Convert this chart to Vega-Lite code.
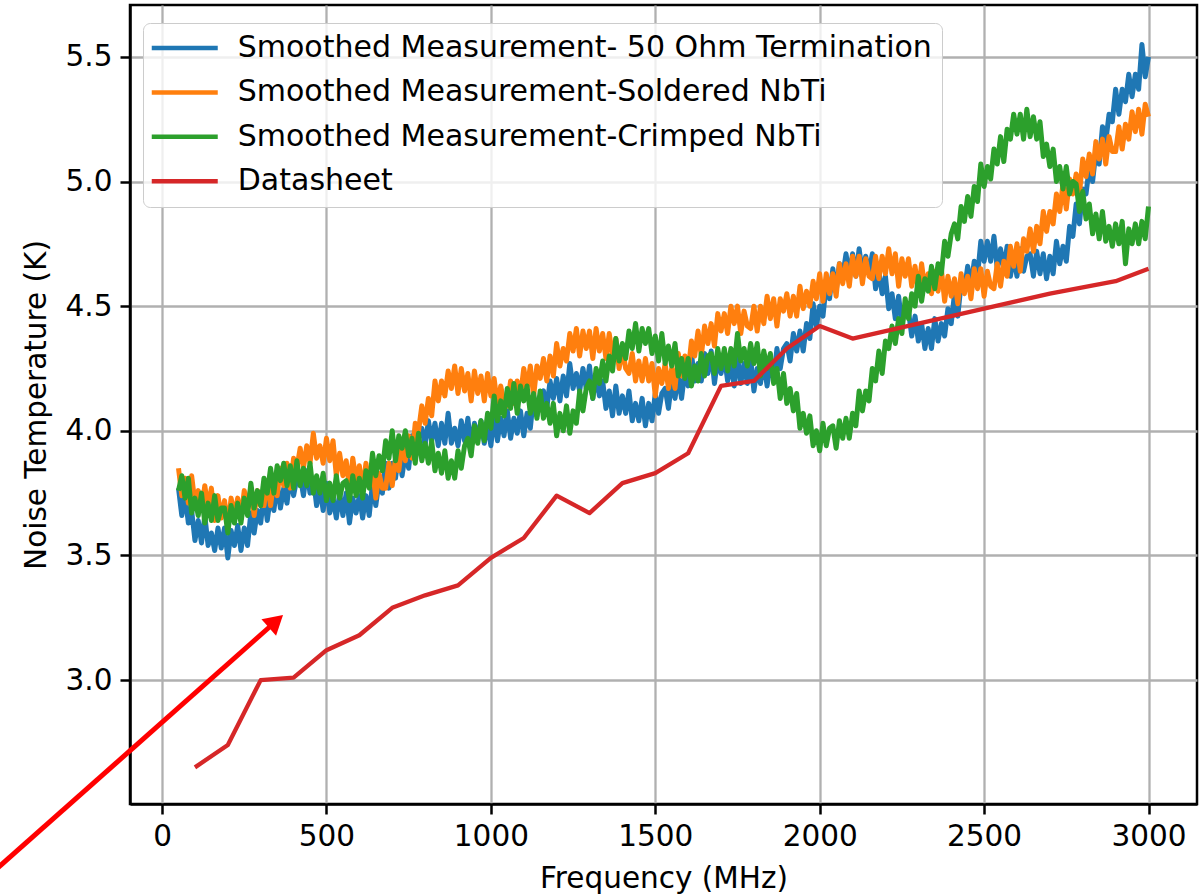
{
"$schema": "https://vega.github.io/schema/vega-lite/v6.json",
"width": 1067, "height": 799,
"autosize": {"type": "none"},
"padding": {"left": 130, "top": 5, "right": 4, "bottom": 92},
"background": "white",
"config": {
  "font": "DejaVu Sans",
  "view": {"stroke": "black", "strokeWidth": 2.5},
  "axis": {"labelFont": "DejaVu Sans", "titleFont": "DejaVu Sans", "labelFontSize": 29.5, "titleFontSize": 29.5, "titleFontWeight": "normal", "labelColor": "black", "titleColor": "black", "tickColor": "black", "tickWidth": 2.5, "tickSize": 10, "domainColor": "black", "domainWidth": 2.5, "gridColor": "#b0b0b0", "gridWidth": 2.3, "gridOpacity": 1, "labelPadding": 8, "labelFlush": false}
},
"datasets": {
"meas": [
{"f":50,"b":3.77,"o":3.85,"g":3.76},{"f":60,"b":3.66,"o":3.74,"g":3.82},{"f":70,"b":3.74,"o":3.81,"g":3.73},{"f":80,"b":3.63,"o":3.71,"g":3.81},{"f":90,"b":3.68,"o":3.82,"g":3.67},
{"f":100,"b":3.56,"o":3.71,"g":3.73},{"f":110,"b":3.64,"o":3.76,"g":3.66},{"f":120,"b":3.55,"o":3.68,"g":3.75},{"f":130,"b":3.66,"o":3.78,"g":3.63},{"f":140,"b":3.54,"o":3.69,"g":3.71},
{"f":150,"b":3.59,"o":3.77,"g":3.64},{"f":160,"b":3.52,"o":3.64,"g":3.74},{"f":170,"b":3.61,"o":3.74,"g":3.64},{"f":180,"b":3.53,"o":3.65,"g":3.69},{"f":190,"b":3.61,"o":3.72,"g":3.69},
{"f":200,"b":3.49,"o":3.61,"g":3.59},{"f":210,"b":3.60,"o":3.73,"g":3.70},{"f":220,"b":3.54,"o":3.66,"g":3.63},{"f":230,"b":3.62,"o":3.73,"g":3.71},{"f":240,"b":3.52,"o":3.65,"g":3.63},
{"f":250,"b":3.61,"o":3.76,"g":3.73},{"f":260,"b":3.54,"o":3.69,"g":3.66},{"f":270,"b":3.67,"o":3.77,"g":3.79},{"f":280,"b":3.59,"o":3.66,"g":3.69},{"f":290,"b":3.68,"o":3.76,"g":3.76},
{"f":300,"b":3.63,"o":3.70,"g":3.70},{"f":310,"b":3.75,"o":3.70,"g":3.81},{"f":320,"b":3.64,"o":3.80,"g":3.75},{"f":330,"b":3.74,"o":3.70,"g":3.85},{"f":340,"b":3.68,"o":3.80,"g":3.75},
{"f":350,"b":3.79,"o":3.74,"g":3.86},{"f":360,"b":3.69,"o":3.85,"g":3.80},{"f":370,"b":3.77,"o":3.78,"g":3.87},{"f":380,"b":3.71,"o":3.87,"g":3.78},{"f":390,"b":3.82,"o":3.77,"g":3.86},
{"f":400,"b":3.74,"o":3.89,"g":3.77},{"f":410,"b":3.81,"o":3.85,"g":3.88},{"f":420,"b":3.82,"o":3.93,"g":3.78},{"f":430,"b":3.74,"o":3.85,"g":3.85},{"f":440,"b":3.84,"o":3.94,"g":3.78},
{"f":450,"b":3.75,"o":3.87,"g":3.87},{"f":460,"b":3.81,"o":3.99,"g":3.75},{"f":470,"b":3.70,"o":3.89,"g":3.82},{"f":480,"b":3.77,"o":3.94,"g":3.75},{"f":490,"b":3.68,"o":3.87,"g":3.83},
{"f":500,"b":3.79,"o":3.97,"g":3.72},{"f":510,"b":3.67,"o":3.88,"g":3.79},{"f":520,"b":3.73,"o":3.96,"g":3.72},{"f":530,"b":3.65,"o":3.82,"g":3.82},{"f":540,"b":3.75,"o":3.91,"g":3.73},
{"f":550,"b":3.66,"o":3.82,"g":3.79},{"f":560,"b":3.75,"o":3.88,"g":3.80},{"f":570,"b":3.63,"o":3.77,"g":3.72},{"f":580,"b":3.73,"o":3.89,"g":3.82},{"f":590,"b":3.67,"o":3.80,"g":3.74},
{"f":600,"b":3.74,"o":3.86,"g":3.81},{"f":610,"b":3.65,"o":3.76,"g":3.73},{"f":620,"b":3.74,"o":3.87,"g":3.84},{"f":630,"b":3.66,"o":3.78,"g":3.77},{"f":640,"b":3.79,"o":3.85,"g":3.91},
{"f":650,"b":3.70,"o":3.73,"g":3.82},{"f":660,"b":3.80,"o":3.83,"g":3.90},{"f":670,"b":3.75,"o":3.77,"g":3.84},{"f":680,"b":3.87,"o":3.77,"g":3.96},{"f":690,"b":3.77,"o":3.87,"g":3.89},
{"f":700,"b":3.87,"o":3.78,"g":4.00},{"f":710,"b":3.81,"o":3.89,"g":3.88},{"f":720,"b":3.91,"o":3.84,"g":3.98},{"f":730,"b":3.82,"o":3.95,"g":3.93},{"f":740,"b":3.91,"o":3.88,"g":4.00},
{"f":750,"b":3.85,"o":3.98,"g":3.90},{"f":760,"b":3.98,"o":3.89,"g":3.97},{"f":770,"b":3.90,"o":4.03,"g":3.87},{"f":780,"b":3.99,"o":4.00,"g":3.99},{"f":790,"b":4.01,"o":4.10,"g":3.88},
{"f":800,"b":3.94,"o":4.03,"g":3.95},{"f":810,"b":4.04,"o":4.13,"g":3.87},{"f":820,"b":3.96,"o":4.06,"g":3.96},{"f":830,"b":4.03,"o":4.20,"g":3.84},{"f":840,"b":3.94,"o":4.12,"g":3.91},
{"f":850,"b":4.03,"o":4.20,"g":3.83},{"f":860,"b":3.95,"o":4.14,"g":3.92},{"f":870,"b":4.07,"o":4.24,"g":3.81},{"f":880,"b":3.95,"o":4.17,"g":3.88},{"f":890,"b":4.01,"o":4.26,"g":3.81},
{"f":900,"b":3.94,"o":4.15,"g":3.92},{"f":910,"b":4.04,"o":4.25,"g":3.85},{"f":920,"b":3.96,"o":4.16,"g":3.94},{"f":930,"b":4.05,"o":4.23,"g":3.97},{"f":940,"b":3.93,"o":4.12,"g":3.90},
{"f":950,"b":4.03,"o":4.24,"g":4.02},{"f":960,"b":3.97,"o":4.15,"g":3.95},{"f":970,"b":4.04,"o":4.22,"g":4.04},{"f":980,"b":3.95,"o":4.12,"g":3.96},{"f":990,"b":4.03,"o":4.23,"g":4.07},
{"f":1000,"b":3.94,"o":4.14,"g":4.01},{"f":1010,"b":4.06,"o":4.21,"g":4.14},{"f":1020,"b":3.96,"o":4.10,"g":4.04},{"f":1030,"b":4.05,"o":4.18,"g":4.12},{"f":1040,"b":3.98,"o":4.11,"g":4.06},
{"f":1050,"b":4.08,"o":4.10,"g":4.17},{"f":1060,"b":3.97,"o":4.20,"g":4.09},{"f":1070,"b":4.05,"o":4.11,"g":4.19},{"f":1080,"b":3.99,"o":4.20,"g":4.07},{"f":1090,"b":4.08,"o":4.14,"g":4.18},
{"f":1100,"b":3.98,"o":4.25,"g":4.12},{"f":1110,"b":4.07,"o":4.17,"g":4.18},{"f":1120,"b":4.01,"o":4.26,"g":4.07},{"f":1130,"b":4.14,"o":4.14,"g":4.15},{"f":1140,"b":4.06,"o":4.26,"g":4.05},
{"f":1150,"b":4.14,"o":4.21,"g":4.16},{"f":1160,"b":4.16,"o":4.29,"g":4.05},{"f":1170,"b":4.09,"o":4.20,"g":4.11},{"f":1180,"b":4.20,"o":4.30,"g":4.03},{"f":1190,"b":4.13,"o":4.22,"g":4.11},
{"f":1200,"b":4.21,"o":4.35,"g":3.98},{"f":1210,"b":4.12,"o":4.26,"g":4.07},{"f":1220,"b":4.22,"o":4.33,"g":4.00},{"f":1230,"b":4.14,"o":4.28,"g":4.10},{"f":1240,"b":4.27,"o":4.39,"g":3.99},
{"f":1250,"b":4.17,"o":4.32,"g":4.08},{"f":1260,"b":4.23,"o":4.41,"g":4.03},{"f":1270,"b":4.16,"o":4.30,"g":4.16},{"f":1280,"b":4.25,"o":4.40,"g":4.08},{"f":1290,"b":4.17,"o":4.33,"g":4.17},
{"f":1300,"b":4.26,"o":4.40,"g":4.20},{"f":1310,"b":4.13,"o":4.29,"g":4.13},{"f":1320,"b":4.22,"o":4.41,"g":4.25},{"f":1330,"b":4.14,"o":4.32,"g":4.19},{"f":1340,"b":4.20,"o":4.39,"g":4.28},
{"f":1350,"b":4.09,"o":4.29,"g":4.20},{"f":1360,"b":4.16,"o":4.39,"g":4.30},{"f":1370,"b":4.06,"o":4.30,"g":4.24},{"f":1380,"b":4.18,"o":4.37,"g":4.37},{"f":1390,"b":4.07,"o":4.25,"g":4.28},
{"f":1400,"b":4.14,"o":4.33,"g":4.35},{"f":1410,"b":4.07,"o":4.25,"g":4.29},{"f":1420,"b":4.16,"o":4.23,"g":4.40},{"f":1430,"b":4.04,"o":4.31,"g":4.33},{"f":1440,"b":4.11,"o":4.20,"g":4.43},
{"f":1450,"b":4.04,"o":4.28,"g":4.32},{"f":1460,"b":4.13,"o":4.20,"g":4.41},{"f":1470,"b":4.02,"o":4.29,"g":4.35},{"f":1480,"b":4.11,"o":4.20,"g":4.41},{"f":1490,"b":4.04,"o":4.27,"g":4.31},
{"f":1500,"b":4.15,"o":4.14,"g":4.38},{"f":1510,"b":4.07,"o":4.25,"g":4.28},{"f":1520,"b":4.15,"o":4.19,"g":4.39},{"f":1530,"b":4.17,"o":4.27,"g":4.27},{"f":1540,"b":4.09,"o":4.17,"g":4.34},
{"f":1550,"b":4.20,"o":4.25,"g":4.26},{"f":1560,"b":4.13,"o":4.17,"g":4.35},{"f":1570,"b":4.22,"o":4.31,"g":4.22},{"f":1580,"b":4.13,"o":4.22,"g":4.29},{"f":1590,"b":4.24,"o":4.30,"g":4.21},
{"f":1600,"b":4.18,"o":4.24,"g":4.29},{"f":1610,"b":4.31,"o":4.36,"g":4.18},{"f":1620,"b":4.20,"o":4.30,"g":4.26},{"f":1630,"b":4.27,"o":4.40,"g":4.20},{"f":1640,"b":4.20,"o":4.30,"g":4.31},
{"f":1650,"b":4.31,"o":4.42,"g":4.22},{"f":1660,"b":4.23,"o":4.35,"g":4.30},{"f":1670,"b":4.32,"o":4.43,"g":4.31},{"f":1680,"b":4.19,"o":4.34,"g":4.23},{"f":1690,"b":4.29,"o":4.47,"g":4.33},
{"f":1700,"b":4.23,"o":4.40,"g":4.25},{"f":1710,"b":4.30,"o":4.47,"g":4.33},{"f":1720,"b":4.20,"o":4.39,"g":4.24},{"f":1730,"b":4.27,"o":4.50,"g":4.33},{"f":1740,"b":4.18,"o":4.43,"g":4.26},
{"f":1750,"b":4.30,"o":4.50,"g":4.39},{"f":1760,"b":4.19,"o":4.39,"g":4.28},{"f":1770,"b":4.27,"o":4.48,"g":4.33},{"f":1780,"b":4.19,"o":4.42,"g":4.26},{"f":1790,"b":4.29,"o":4.41,"g":4.35},
{"f":1800,"b":4.16,"o":4.50,"g":4.27},{"f":1810,"b":4.25,"o":4.40,"g":4.35},{"f":1820,"b":4.19,"o":4.50,"g":4.22},{"f":1830,"b":4.28,"o":4.43,"g":4.32},{"f":1840,"b":4.18,"o":4.54,"g":4.25},
{"f":1850,"b":4.27,"o":4.45,"g":4.31},{"f":1860,"b":4.21,"o":4.53,"g":4.19},{"f":1870,"b":4.33,"o":4.42,"g":4.25},{"f":1880,"b":4.25,"o":4.53,"g":4.13},{"f":1890,"b":4.33,"o":4.48,"g":4.23},
{"f":1900,"b":4.35,"o":4.55,"g":4.11},{"f":1910,"b":4.28,"o":4.46,"g":4.17},{"f":1920,"b":4.39,"o":4.54,"g":4.08},{"f":1930,"b":4.32,"o":4.46,"g":4.15},{"f":1940,"b":4.40,"o":4.58,"g":4.01},
{"f":1950,"b":4.32,"o":4.49,"g":4.07},{"f":1960,"b":4.43,"o":4.56,"g":3.99},{"f":1970,"b":4.37,"o":4.50,"g":4.06},{"f":1980,"b":4.51,"o":4.60,"g":3.94},{"f":1990,"b":4.42,"o":4.53,"g":4.00},
{"f":2000,"b":4.50,"o":4.63,"g":3.92},{"f":2010,"b":4.46,"o":4.52,"g":4.03},{"f":2020,"b":4.59,"o":4.63,"g":3.94},{"f":2030,"b":4.53,"o":4.55,"g":4.01},{"f":2040,"b":4.65,"o":4.63,"g":4.02},
{"f":2050,"b":4.56,"o":4.54,"g":3.93},{"f":2060,"b":4.67,"o":4.67,"g":4.04},{"f":2070,"b":4.62,"o":4.59,"g":3.97},{"f":2080,"b":4.71,"o":4.67,"g":4.05},{"f":2090,"b":4.62,"o":4.58,"g":3.97},
{"f":2100,"b":4.71,"o":4.70,"g":4.07},{"f":2110,"b":4.62,"o":4.62,"g":4.02},{"f":2120,"b":4.73,"o":4.70,"g":4.16},{"f":2130,"b":4.63,"o":4.59,"g":4.08},{"f":2140,"b":4.70,"o":4.69,"g":4.16},
{"f":2150,"b":4.63,"o":4.62,"g":4.12},{"f":2160,"b":4.71,"o":4.61,"g":4.25},{"f":2170,"b":4.57,"o":4.70,"g":4.20},{"f":2180,"b":4.64,"o":4.61,"g":4.32},{"f":2190,"b":4.55,"o":4.70,"g":4.23},
{"f":2200,"b":4.62,"o":4.63,"g":4.36},{"f":2210,"b":4.49,"o":4.73,"g":4.33},{"f":2220,"b":4.55,"o":4.63,"g":4.42},{"f":2230,"b":4.45,"o":4.71,"g":4.35},{"f":2240,"b":4.54,"o":4.58,"g":4.45},
{"f":2250,"b":4.43,"o":4.69,"g":4.39},{"f":2260,"b":4.49,"o":4.62,"g":4.53},{"f":2270,"b":4.48,"o":4.69,"g":4.45},{"f":2280,"b":4.38,"o":4.58,"g":4.55},{"f":2290,"b":4.46,"o":4.66,"g":4.50},
{"f":2300,"b":4.36,"o":4.56,"g":4.62},{"f":2310,"b":4.43,"o":4.67,"g":4.52},{"f":2320,"b":4.33,"o":4.57,"g":4.61},{"f":2330,"b":4.41,"o":4.63,"g":4.56},{"f":2340,"b":4.33,"o":4.55,"g":4.66},
{"f":2350,"b":4.45,"o":4.64,"g":4.57},{"f":2360,"b":4.36,"o":4.56,"g":4.67},{"f":2370,"b":4.43,"o":4.65,"g":4.63},{"f":2380,"b":4.38,"o":4.52,"g":4.76},{"f":2390,"b":4.49,"o":4.62,"g":4.70},
{"f":2400,"b":4.43,"o":4.54,"g":4.79},{"f":2410,"b":4.55,"o":4.61,"g":4.83},{"f":2420,"b":4.46,"o":4.51,"g":4.77},{"f":2430,"b":4.59,"o":4.63,"g":4.90},{"f":2440,"b":4.56,"o":4.55,"g":4.84},
{"f":2450,"b":4.66,"o":4.62,"g":4.94},{"f":2460,"b":4.58,"o":4.53,"g":4.86},{"f":2470,"b":4.68,"o":4.65,"g":4.98},{"f":2480,"b":4.62,"o":4.57,"g":4.92},{"f":2490,"b":4.76,"o":4.65,"g":5.07},
{"f":2500,"b":4.68,"o":4.54,"g":4.98},{"f":2510,"b":4.76,"o":4.64,"g":5.06},{"f":2520,"b":4.68,"o":4.58,"g":5.01},{"f":2530,"b":4.78,"o":4.57,"g":5.13},{"f":2540,"b":4.65,"o":4.67,"g":5.07},
{"f":2550,"b":4.73,"o":4.58,"g":5.18},{"f":2560,"b":4.65,"o":4.68,"g":5.08},{"f":2570,"b":4.74,"o":4.62,"g":5.21},{"f":2580,"b":4.62,"o":4.74,"g":5.17},{"f":2590,"b":4.70,"o":4.66,"g":5.27},
{"f":2600,"b":4.62,"o":4.75,"g":5.19},{"f":2610,"b":4.73,"o":4.64,"g":5.27},{"f":2620,"b":4.64,"o":4.77,"g":5.17},{"f":2630,"b":4.70,"o":4.72,"g":5.29},{"f":2640,"b":4.71,"o":4.81,"g":5.18},
{"f":2650,"b":4.62,"o":4.72,"g":5.26},{"f":2660,"b":4.72,"o":4.82,"g":5.17},{"f":2670,"b":4.63,"o":4.75,"g":5.24},{"f":2680,"b":4.71,"o":4.88,"g":5.10},{"f":2690,"b":4.61,"o":4.80,"g":5.15},
{"f":2700,"b":4.70,"o":4.88,"g":5.06},{"f":2710,"b":4.63,"o":4.83,"g":5.13},{"f":2720,"b":4.76,"o":4.95,"g":5.00},{"f":2730,"b":4.67,"o":4.88,"g":5.06},{"f":2740,"b":4.74,"o":4.99,"g":4.97},
{"f":2750,"b":4.68,"o":4.89,"g":5.06},{"f":2760,"b":4.82,"o":5.01,"g":4.95},{"f":2770,"b":4.78,"o":4.95,"g":5.00},{"f":2780,"b":4.91,"o":5.03,"g":4.99},{"f":2790,"b":4.83,"o":4.95,"g":4.88},
{"f":2800,"b":4.97,"o":5.09,"g":4.96},{"f":2810,"b":4.95,"o":5.02,"g":4.85},{"f":2820,"b":5.06,"o":5.11,"g":4.91},{"f":2830,"b":5.00,"o":5.03,"g":4.79},{"f":2840,"b":5.12,"o":5.16,"g":4.87},
{"f":2850,"b":5.07,"o":5.09,"g":4.77},{"f":2860,"b":5.22,"o":5.17,"g":4.88},{"f":2870,"b":5.16,"o":5.07,"g":4.76},{"f":2880,"b":5.27,"o":5.18,"g":4.82},{"f":2890,"b":5.24,"o":5.12,"g":4.74},
{"f":2900,"b":5.37,"o":5.12,"g":4.83},{"f":2910,"b":5.27,"o":5.22,"g":4.75},{"f":2920,"b":5.37,"o":5.13,"g":4.84},{"f":2930,"b":5.32,"o":5.23,"g":4.67},{"f":2940,"b":5.43,"o":5.17,"g":4.81},
{"f":2950,"b":5.34,"o":5.28,"g":4.75},{"f":2960,"b":5.43,"o":5.20,"g":4.83},{"f":2970,"b":5.37,"o":5.29,"g":4.75},{"f":2980,"b":5.55,"o":5.19,"g":4.84},{"f":2990,"b":5.42,"o":5.31,"g":4.77},
{"f":3000,"b":5.50,"o":5.26,"g":4.90}
],
"ds": [
{"f":100,"d":2.65},{"f":200,"d":2.74},{"f":300,"d":3.00},{"f":400,"d":3.01},{"f":500,"d":3.12},{"f":600,"d":3.18},{"f":700,"d":3.29},{"f":800,"d":3.34},{"f":900,"d":3.38},{"f":1000,"d":3.49},
{"f":1100,"d":3.57},{"f":1200,"d":3.74},{"f":1300,"d":3.67},{"f":1400,"d":3.79},{"f":1500,"d":3.83},{"f":1600,"d":3.91},{"f":1700,"d":4.18},{"f":1800,"d":4.20},{"f":1900,"d":4.33},{"f":2000,"d":4.42},
{"f":2100,"d":4.37},{"f":2200,"d":4.40},{"f":2300,"d":4.43},{"f":2400,"d":4.46},{"f":2500,"d":4.49},{"f":2600,"d":4.52},{"f":2700,"d":4.55},{"f":2800,"d":4.575},{"f":2900,"d":4.60},{"f":3000,"d":4.65}
],
"arrow": [
{"x1":-523.3,"y1":2.219,"x2":333.7,"y2":3.221,"hx":346.2,"hy":3.236}
]
},
"layer": [
{
  "data": {"name": "meas"},
  "transform": [{"fold": ["b", "o", "g"], "as": ["s", "T"]}],
  "mark": {"type": "line", "strokeWidth": 5, "strokeJoin": "round"},
  "encoding": {
    "x": {"field": "f", "type": "quantitative", "title": "Frequency (MHz)",
      "scale": {"domain": [-97.5, 3147.5], "nice": false, "zero": false},
      "axis": {"values": [0, 500, 1000, 1500, 2000, 2500, 3000], "format": "d", "titlePadding": 14}},
    "y": {"field": "T", "type": "quantitative", "title": "Noise Temperature (K)",
      "scale": {"domain": [2.503, 5.708], "nice": false, "zero": false},
      "axis": {"values": [3.0, 3.5, 4.0, 4.5, 5.0, 5.5], "format": ".1f", "titlePadding": 14}},
    "color": {"field": "s", "type": "nominal",
      "scale": {"domain": ["b", "o", "g", "d"], "range": ["#1f77b4", "#ff7f0e", "#2ca02c", "#d62728"]},
      "legend": {"orient": "none", "legendX": 13, "legendY": 18, "title": null,
        "labelExpr": "datum.label == 'b' ? 'Smoothed Measurement- 50 Ohm Termination' : datum.label == 'o' ? 'Smoothed Measurement-Soldered NbTi' : datum.label == 'g' ? 'Smoothed Measurement-Crimped NbTi' : 'Datasheet'",
        "labelFont": "DejaVu Sans", "labelFontSize": 30, "labelColor": "black", "labelLimit": 1000,
        "symbolType": "M-3,0H3", "symbolSize": 484, "symbolStrokeWidth": 4.5, "symbolOffset": 16.75, "labelOffset": 38,
        "rowPadding": 14.4, "padding": 10, "fillColor": "rgba(255,255,255,0.8)", "strokeColor": "#cccccc", "cornerRadius": 7}}
  }
},
{
  "data": {"name": "ds"},
  "transform": [{"fold": ["d"], "as": ["s", "T"]}],
  "mark": {"type": "line", "strokeWidth": 4.3, "strokeJoin": "round"},
  "encoding": {
    "x": {"field": "f", "type": "quantitative", "title": "Frequency (MHz)"},
    "y": {"field": "T", "type": "quantitative", "title": "Noise Temperature (K)"},
    "color": {"field": "s", "type": "nominal"}
  }
},
{
  "data": {"name": "arrow"},
  "mark": {"type": "rule", "color": "#ff0000", "strokeWidth": 5},
  "encoding": {
    "x": {"field": "x1", "type": "quantitative", "title": "Frequency (MHz)"},
    "x2": {"field": "x2"},
    "y": {"field": "y1", "type": "quantitative", "title": "Noise Temperature (K)"},
    "y2": {"field": "y2"}
  }
},
{
  "data": {"name": "arrow"},
  "mark": {"type": "point", "shape": "triangle-up", "filled": true, "color": "#ff0000", "size": 484, "angle": 48.4, "opacity": 1},
  "encoding": {
    "x": {"field": "hx", "type": "quantitative", "title": "Frequency (MHz)"},
    "y": {"field": "hy", "type": "quantitative", "title": "Noise Temperature (K)"}
  }
}
]
}
